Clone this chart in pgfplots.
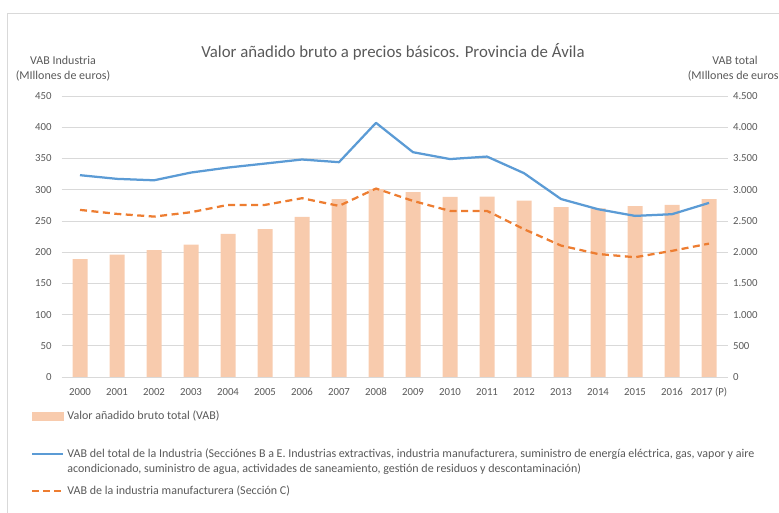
\documentclass[border=0pt]{standalone}
\usepackage{pgfplots}
\pgfplotsset{compat=1.18}
\usepackage{fontspec}
\setmainfont{Carlito}
\definecolor{txt}{HTML}{595959}
\definecolor{gridc}{HTML}{D9D9D9}
\definecolor{barc}{HTML}{F8CBAD}
\definecolor{blu}{HTML}{5B9BD5}
\definecolor{org}{HTML}{ED7D31}
\begin{document}
\begin{tikzpicture}[x=1pt,y=1pt]
\useasboundingbox (0,0) rectangle (779,513);
\draw[gridc, line width=0.75pt] (7,-10) -- (7,500) -- (800,500);
\node[txt, font=\fontsize{16.8}{19}\selectfont] at (393,461.3) {Valor añadido bruto a precios básicos. Provincia de Ávila};
\node[txt, font=\fontsize{12}{15}\selectfont, align=center] at (63,444.5) {VAB Industria\\(MIllones de euros)};
\node[txt, font=\fontsize{12}{15}\selectfont, align=center] at (735,444.5) {VAB total\\(MIllones de euros)};

% bars (right axis, total VAB)
\begin{axis}[
  at={(61.5pt,136pt)}, anchor=south west, scale only axis,
  width=666pt, height=281pt,
  xmin=-0.5, xmax=17.5, ymin=0, ymax=4500,
  axis line style={draw=none}, major tick length=0pt,
  xtick=\empty,
  ytick={0,500,...,4500}, yticklabel pos=right,
  ymajorgrids, grid style={gridc, line width=0.75pt},
  yticklabel style={font=\fontsize{10.8}{12}\selectfont, text=txt, xshift=2pt},
  /pgf/number format/1000 sep={.},
  /pgf/number format/assume math mode=true,
  ybar, bar width=15pt,
  clip=false,
]
\addplot[fill=barc, draw=none] coordinates {
(0,1886) (1,1960) (2,2030) (3,2120) (4,2290) (5,2370) (6,2564) (7,2850) (8,3008)
(9,2960) (10,2885) (11,2890) (12,2826) (13,2720) (14,2700) (15,2735) (16,2756) (17,2850)};
\end{axis}

% lines (left axis)
\begin{axis}[
  at={(61.5pt,136pt)}, anchor=south west, scale only axis,
  width=666pt, height=281pt,
  xmin=-0.5, xmax=17.5, ymin=0, ymax=450,
  axis line style={draw=none}, major tick length=0pt,
  xtick={0,...,17},
  xticklabels={2000,2001,2002,2003,2004,2005,2006,2007,2008,2009,2010,2011,2012,2013,2014,2015,2016,2017 (P)},
  xticklabel style={font=\fontsize{10.8}{12}\selectfont, text=txt, text height=7pt, yshift=-7.8pt},
  ytick={0,50,...,450}, yticklabel pos=left,
  yticklabel style={font=\fontsize{10.8}{12}\selectfont, text=txt, xshift=-6.3pt},
  /pgf/number format/assume math mode=true,
  legend cell align=left,
  legend style={at={(-0.0458,-0.1149)}, anchor=north west, draw=none, fill=none,
    inner sep=0pt, row sep=0pt, column sep=0pt,
    font=\fontsize{12}{15}\selectfont, text=txt,
    nodes={inner xsep=3pt, inner ysep=0pt, text depth=2.5pt}, cells={anchor=base west}},
]
\addlegendimage{legend image code/.code={\fill[barc] (0pt,-0.5pt) rectangle (31pt,6.8pt);}}
\addlegendentry{\rule{0pt}{10pt}Valor añadido bruto total (VAB)}
\addplot[blu, line width=2.25pt, line join=round,
  legend image code/.code={\draw[blu, line width=2.25pt] (0pt,3.5pt) -- (31pt,3.5pt);}] coordinates {
(0,323.2) (1,317.3) (2,315) (3,327.4) (4,335.4) (5,341.8) (6,348.3) (7,344) (8,407)
(9,360) (10,349) (11,353) (12,326.4) (13,285) (14,268.7) (15,258) (16,260.7) (17,278.8)};
\addlegendentry{\rule{0pt}{35.7pt}VAB del total de la Industria (Secciónes B a E. Industrias extractivas, industria manufacturera, suministro de energía eléctrica, gas, vapor y aire}
\addlegendimage{empty legend}
\addlegendentry{\rule{0pt}{12.5pt}acondicionado, suministro de agua, actividades de saneamiento, gestión de residuos y descontaminación)}
\addplot[org, line width=2.25pt, line join=round, dash pattern=on 7pt off 4.5pt,
  legend image code/.code={\draw[org, line width=2.25pt, dash pattern=on 7pt off 4pt] (0pt,3.5pt) -- (31pt,3.5pt);}] coordinates {
(0,267.6) (1,261.2) (2,256.9) (3,263.9) (4,275.6) (5,275.6) (6,286.3) (7,274) (8,301.8)
(9,282) (10,266) (11,266) (12,236.7) (13,210.5) (14,197) (15,191.8) (16,202) (17,213.6)};
\addlegendentry{\rule{0pt}{19.5pt}VAB de la industria manufacturera (Sección C)}
\end{axis}
\end{tikzpicture}
\end{document}
